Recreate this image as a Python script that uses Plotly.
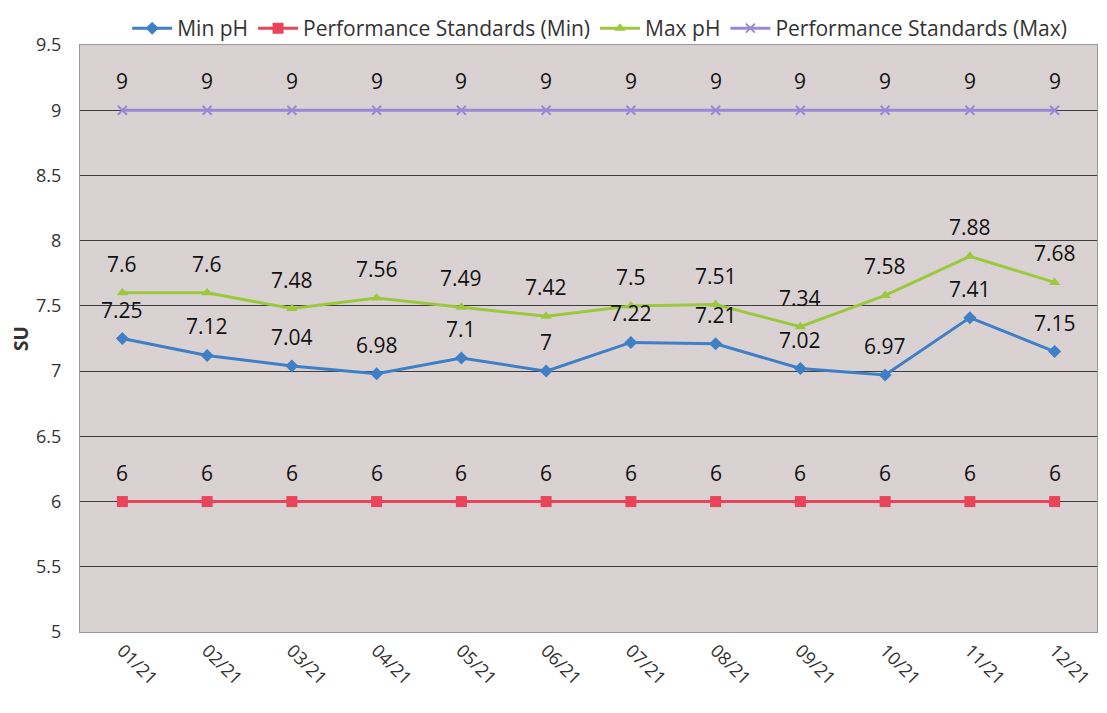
import plotly.graph_objects as go

months = ["01/21", "02/21", "03/21", "04/21", "05/21", "06/21",
          "07/21", "08/21", "09/21", "10/21", "11/21", "12/21"]
min_ph = [7.25, 7.12, 7.04, 6.98, 7.1, 7, 7.22, 7.21, 7.02, 6.97, 7.41, 7.15]
ps_min = [6, 6, 6, 6, 6, 6, 6, 6, 6, 6, 6, 6]
max_ph = [7.6, 7.6, 7.48, 7.56, 7.49, 7.42, 7.5, 7.51, 7.34, 7.58, 7.88, 7.68]
ps_max = [9, 9, 9, 9, 9, 9, 9, 9, 9, 9, 9, 9]
y_ticks = [5, 5.5, 6, 6.5, 7, 7.5, 8, 8.5, 9, 9.5]

FONT = "Open Sans, Noto Sans, sans-serif"
label_font = dict(family=FONT, size=21, color="#111111")

def fmt(v):
    return f"{v:g}"

fig = go.Figure()
series = [
    ("Min pH", min_ph, "#3f7fc6", dict(symbol="diamond", size=10)),
    ("Performance Standards (Min)", ps_min, "#e8455a", dict(symbol="square", size=11)),
    ("Max pH", max_ph, "#9cc83e", dict(symbol="triangle-up", size=10)),
    ("Performance Standards (Max)", ps_max, "#9b88d4", dict(symbol="x-thin", size=9, line=dict(width=2, color="#9b88d4"))),
]
annotations = []
for name, vals, color, mk in series:
    fig.add_trace(go.Scatter(
        x=months, y=vals, name=name, mode="lines+markers",
        line=dict(color=color, width=3),
        marker=dict(color=color, **mk),
    ))
    for m, v in zip(months, vals):
        annotations.append(dict(x=m, y=v, xref="x", yref="y", text=fmt(v),
                                showarrow=False, yshift=29, font=label_font))

fig.update_layout(
    width=1091, height=697,
    margin=dict(l=72, r=2, t=37, b=73, autoexpand=False),
    paper_bgcolor="white", plot_bgcolor="#dad2d2",
    font=dict(family=FONT, size=18, color="#333333"),
    legend=dict(orientation="h", x=0.511, xanchor="center", yref="container", y=1.0, yanchor="top",
                font=dict(size=21, color="#333333"), bgcolor="rgba(0,0,0,0)",
                itemwidth=40, tracegroupgap=0),
    showlegend=True,
    annotations=annotations,
)
fig.update_xaxes(
    type="category", range=[-0.5, len(months) - 0.5], tickangle=45,
    showgrid=False, showline=True,
    linecolor="#9a9a9a", linewidth=1, mirror=True, ticks="",
    tickfont=dict(size=18, color="#333333"),
)
fig.update_yaxes(
    range=[5, 9.5], tickvals=y_ticks, ticktext=[fmt(v) for v in y_ticks],
    showgrid=True, gridcolor="#3d3d3d", gridwidth=1, zeroline=False,
    showline=True, linecolor="#9a9a9a", mirror=True,
    tickfont=dict(size=18, color="#333333"), ticklabelstandoff=14,
    title=dict(text="<b>SU</b>", font=dict(size=19, color="#333333"), standoff=4),
)
fig.write_html("out.html")
